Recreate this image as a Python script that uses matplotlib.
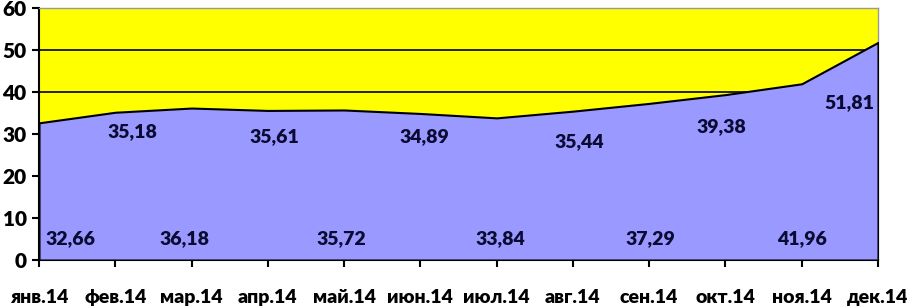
import matplotlib
matplotlib.use('Agg')
import matplotlib.pyplot as plt
import numpy as np

# data
months = ['янв.14', 'фев.14', 'мар.14', 'апр.14', 'май.14', 'июн.14',
          'июл.14', 'авг.14', 'сен.14', 'окт.14', 'ноя.14', 'дек.14']
values = [32.66, 35.18, 36.18, 35.61, 35.72, 34.89,
          33.84, 35.44, 37.29, 39.38, 41.96, 51.81]

# label placement (as in the original, labels alternate bottom / under the line)
lab_x = [0.41, 1.22, 1.91, 3.09, 3.97, 5.05, 6.05, 7.09, 8.02, 8.94, 10.01, 10.62]
lab_y = [5.0, 30.5, 5.0, 29.5, 5.0, 29.3, 5.0, 28.1, 5.0, 31.7, 5.0, 37.4]

plt.rcParams['font.family'] = ['Lato', 'Open Sans', 'DejaVu Sans']

fig = plt.figure(figsize=(9.1, 3.06), dpi=100)
ax = fig.add_axes([39/910, 46/306, (878-39)/910, (260-8)/306])
ax.set_facecolor('#ffff00')

x = np.arange(len(months))
ax.fill_between(x, values, 0, facecolor='#9999ff', edgecolor='black', linewidth=1.5, zorder=3)

for i in range(len(values)):
    ax.text(lab_x[i], lab_y[i], ('%.2f' % values[i]).replace('.', ','),
            ha='center', va='center', fontsize=14, fontweight='heavy',
            color='#0a0a33', zorder=5)

ax.set_xlim(0, len(months) - 1)
ax.set_ylim(0, 60)
ax.set_yticks(np.arange(0, 61, 10))
ax.set_xticks(x)
ax.set_xticklabels(months)
ax.grid(axis='y', color='black', linewidth=1.2, zorder=1)
ax.set_axisbelow(True)

ax.tick_params(axis='y', direction='out', length=5, width=1.5, pad=4, labelsize=15)
ax.tick_params(axis='x', direction='out', length=5, width=1.5, pad=16, labelsize=14)
for lab in ax.get_xticklabels() + ax.get_yticklabels():
    lab.set_fontweight('heavy')

ax.spines['left'].set_color('black')
ax.spines['left'].set_linewidth(1.5)
ax.spines['bottom'].set_color('black')
ax.spines['bottom'].set_linewidth(1.5)
ax.spines['top'].set_color('#999999')
ax.spines['top'].set_linewidth(1)
ax.spines['right'].set_color('#999999')
ax.spines['right'].set_linewidth(1)

fig.savefig('out.png', dpi=100)
